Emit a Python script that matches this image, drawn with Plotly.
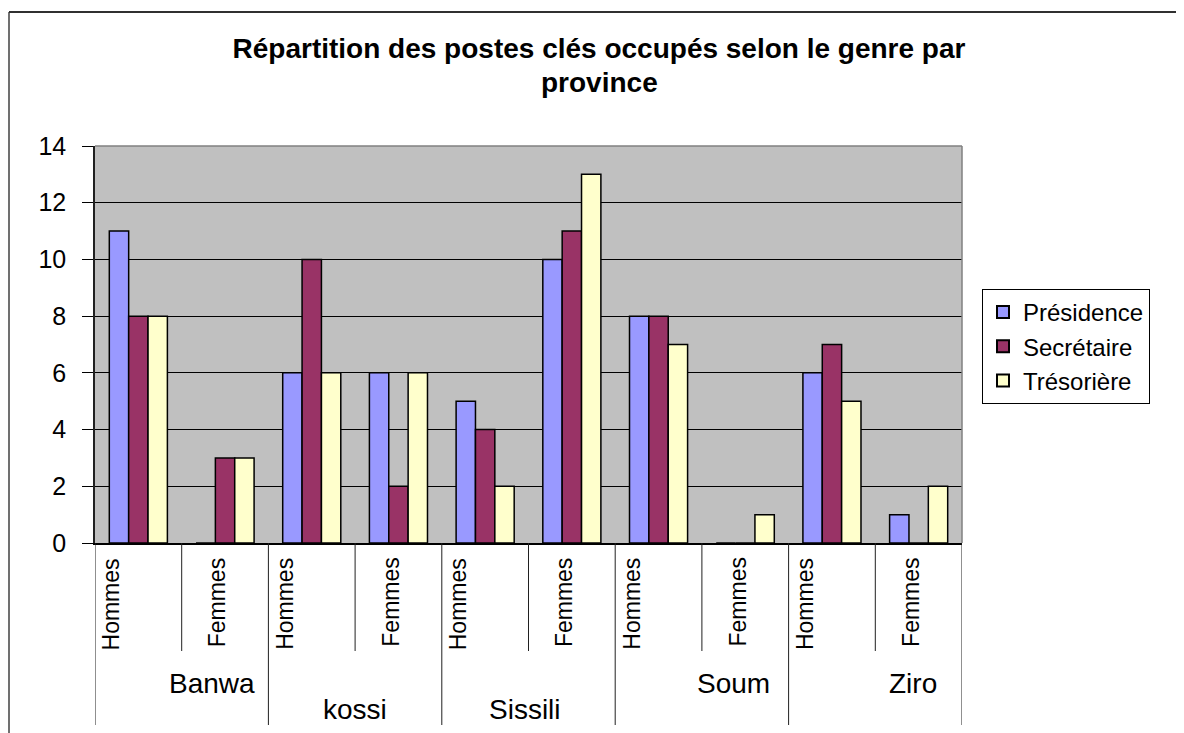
import plotly.graph_objects as go

# ---- data ----
provinces = ["Banwa", "kossi", "Sissili", "Soum", "Ziro"]
genres = ["Hommes", "Femmes"]
series_names = ["Présidence", "Secrétaire", "Trésorière"]
presidence = [11, 0, 6, 6, 5, 10, 8, 0, 6, 1]
secretaire = [8, 3, 10, 2, 4, 11, 8, 0, 7, 0]
tresoriere = [8, 3, 6, 6, 2, 13, 7, 1, 5, 2]
y_ticks = [0, 2, 4, 6, 8, 10, 12, 14]
title_line1 = "Répartition des postes clés occupés selon le genre par"
title_line2 = "province"

colors = ["#9999FF", "#993366", "#FFFFCC"]
FONT = "Liberation Sans, Arial, sans-serif"

OFF = 8  # page body margin
W, H = 1184 - OFF, 733 - OFF
L, T = 95 - OFF, 146 - OFF
PW, PH = 867, 397
R, B = W - L - PW, H - T - PH


def px2paper_x(px):  # page pixel -> paper
    return (px - OFF - L) / PW


def px2paper_y(py):
    return (T + PH - (py - OFF)) / PH


n = len(provinces) * len(genres)
xs = list(range(n))

fig = go.Figure()
for name, vals, col in zip(series_names, [presidence, secretaire, tresoriere], colors):
    fig.add_trace(go.Bar(
        x=xs, y=vals, name=name,
        marker=dict(color=col, line=dict(color="black", width=1.5)),
    ))

shapes = []
# outer chart border (left + top, running off the page)
shapes.append(dict(type="line", xref="paper", yref="paper",
                   x0=px2paper_x(OFF + 1), x1=px2paper_x(OFF + 1),
                   y0=px2paper_y(12), y1=px2paper_y(760),
                   line=dict(color="#404040", width=1.5)))
shapes.append(dict(type="line", xref="paper", yref="paper",
                   x0=px2paper_x(OFF + 1), x1=px2paper_x(1200), y0=px2paper_y(12), y1=px2paper_y(12),
                   line=dict(color="#303030", width=2)))
# plot area border (top/right gray)
shapes.append(dict(type="line", xref="paper", yref="paper", x0=0, x1=1, y0=1, y1=1,
                   line=dict(color="#808080", width=1.5), layer="above"))
shapes.append(dict(type="line", xref="paper", yref="paper", x0=1, x1=1, y0=0, y1=1,
                   line=dict(color="#808080", width=1.5), layer="above"))
# category dividers under the axis
for b in range(n + 1):
    bottom = px2paper_y(725) if b % 2 == 0 else px2paper_y(651)
    shapes.append(dict(type="line", xref="x", yref="paper", x0=b - 0.5, x1=b - 0.5,
                       y0=0, y1=bottom, line=dict(color="#202020", width=1)))

annotations = []
# second title line
annotations.append(dict(text="<b>" + title_line2 + "</b>", x=px2paper_x(599),
                        xref="paper", y=px2paper_y(82), yref="paper",
                        xanchor="center", yanchor="middle", showarrow=False,
                        font=dict(family=FONT, size=28, color="black")))
# gender labels, rotated
for i in range(n):
    g = genres[i % 2]
    off = -0.31 if i % 2 == 0 else -0.095
    annotations.append(dict(text=g, x=i + off, xref="x", y=px2paper_y(556), yref="paper",
                            textangle=-90, xanchor="center", yanchor="top", showarrow=False,
                            font=dict(family=FONT, size=23, color="black")))
# province labels (Excel staggered placement)
prov_x = [0.855, 2.5, 4.46, 6.86, 8.93]
prov_baseline = [692, 718, 718, 692, 692]
for p, x, bl in zip(provinces, prov_x, prov_baseline):
    annotations.append(dict(text=p, x=x, xref="x", y=px2paper_y(bl - 9), yref="paper",
                            xanchor="center", yanchor="middle", showarrow=False,
                            font=dict(family=FONT, size=28, color="black")))

fig.update_layout(
    width=W, height=H, autosize=False,
    margin=dict(l=L, r=R, t=T, b=B, pad=0),
    paper_bgcolor="white", plot_bgcolor="#C0C0C0",
    font=dict(family=FONT, color="black"),
    title=dict(text=title_line1, x=(599 - OFF) / W, xanchor="center", xref="container",
               y=1 - (48 - OFF) / H, yanchor="middle", yref="container",
               font=dict(family=FONT, size=28, color="black", weight="bold")),
    barmode="group", bargap=0.33, bargroupgap=0,
    showlegend=True,
    legend=dict(x=px2paper_x(982), y=px2paper_y(289), xanchor="left", yanchor="top",
                bgcolor="white", bordercolor="black", borderwidth=1,
                font=dict(family=FONT, size=24, color="black"),
                tracegroupgap=0, itemsizing="constant"),
    xaxis=dict(range=[-0.5, n - 0.5], showticklabels=False, ticks="", showgrid=False,
               zeroline=False, showline=True, linecolor="black", linewidth=1.5,
               fixedrange=True),
    yaxis=dict(range=[0, 14], tickvals=y_ticks, ticktext=[str(v) for v in y_ticks],
               showgrid=True, gridcolor="black", gridwidth=1, zeroline=False,
               showline=True, linecolor="#202020", linewidth=1.5,
               ticks="outside", ticklen=11, tickcolor="black", tickwidth=1,
               ticklabelstandoff=11,
               tickfont=dict(family=FONT, size=25, color="black"), fixedrange=True),
    shapes=shapes, annotations=annotations,
)

fig.write_html("out.html")
